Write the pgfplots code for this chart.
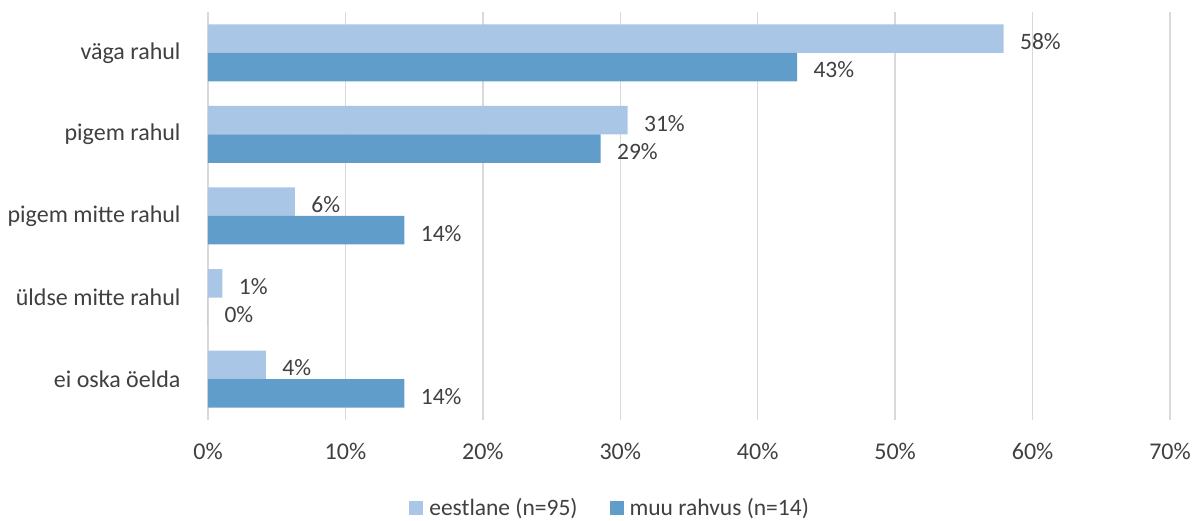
\documentclass[border=0pt]{standalone}
\usepackage{pgfplots}
\pgfplotsset{compat=1.18}
\usepackage{fontspec}
\setmainfont{Carlito}
\definecolor{lightb}{HTML}{A9C6E6}
\definecolor{darkb}{HTML}{619DCA}
\definecolor{txt}{HTML}{404040}
\definecolor{grid}{HTML}{D9D9D9}
\begin{document}
\begin{tikzpicture}
\begin{axis}[
  at={(0pt,0pt)}, anchor=south west,
  scale only axis,
  width=962pt, height=408pt,
  xbar, bar width=28.5pt,
  xmin=0, xmax=70,
  ymin=-0.5, ymax=4.5,
  ytick={0,1,2,3,4},
  yticklabels={ei oska öelda, üldse mitte rahul, pigem mitte rahul, pigem rahul, väga rahul},
  xtick={0,10,...,70},
  xticklabel={\pgfmathprintnumber{\tick}\%},
  /pgf/number format/assume math mode=true,
  xmajorgrids, ymajorgrids=false,
  x grid style={grid, line width=1.5pt},
  axis line style={draw=none},
  tick style={draw=none},
  major tick length=0pt,
  tick label style={font=\fontsize{24}{28}\selectfont, text=txt},
  xticklabel style={yshift=-20pt},
  yticklabel style={xshift=-24pt},
  nodes near coords={\pgfmathprintnumber[fixed,precision=0]{\pgfplotspointmeta}\%},
  nodes near coords style={font=\fontsize{23.5}{28}\selectfont, text=txt, anchor=west, xshift=13pt, yshift=-3pt},
  legend style={at={(0.418,-0.215)}, anchor=center, draw=none, legend columns=2,
    font=\fontsize{23.5}{28}\selectfont, text=txt,
    /tikz/every odd column/.append style={column sep=4pt},
    /tikz/every even column/.append style={column sep=30pt}},
  legend image code/.code={\fill[#1] (0pt,-7pt) rectangle (14pt,7pt);},
  clip=false,
]
\addplot[fill=lightb, draw=none, bar shift=14.25pt, /pgf/number format/assume math mode=true] coordinates {(57.89,4) (30.53,3) (6.32,2) (1.05,1) (4.21,0)};
\addplot[fill=darkb, draw=none, bar shift=-14.25pt, /pgf/number format/assume math mode=true] coordinates {(42.86,4) (28.57,3) (14.29,2) (0,1) (14.29,0)};
\legend{eestlane (n=95), muu rahvus (n=14)}
\end{axis}
\pgfresetboundingbox
\useasboundingbox (-208pt,-101pt) rectangle (986pt,420pt);
\end{tikzpicture}
\end{document}
